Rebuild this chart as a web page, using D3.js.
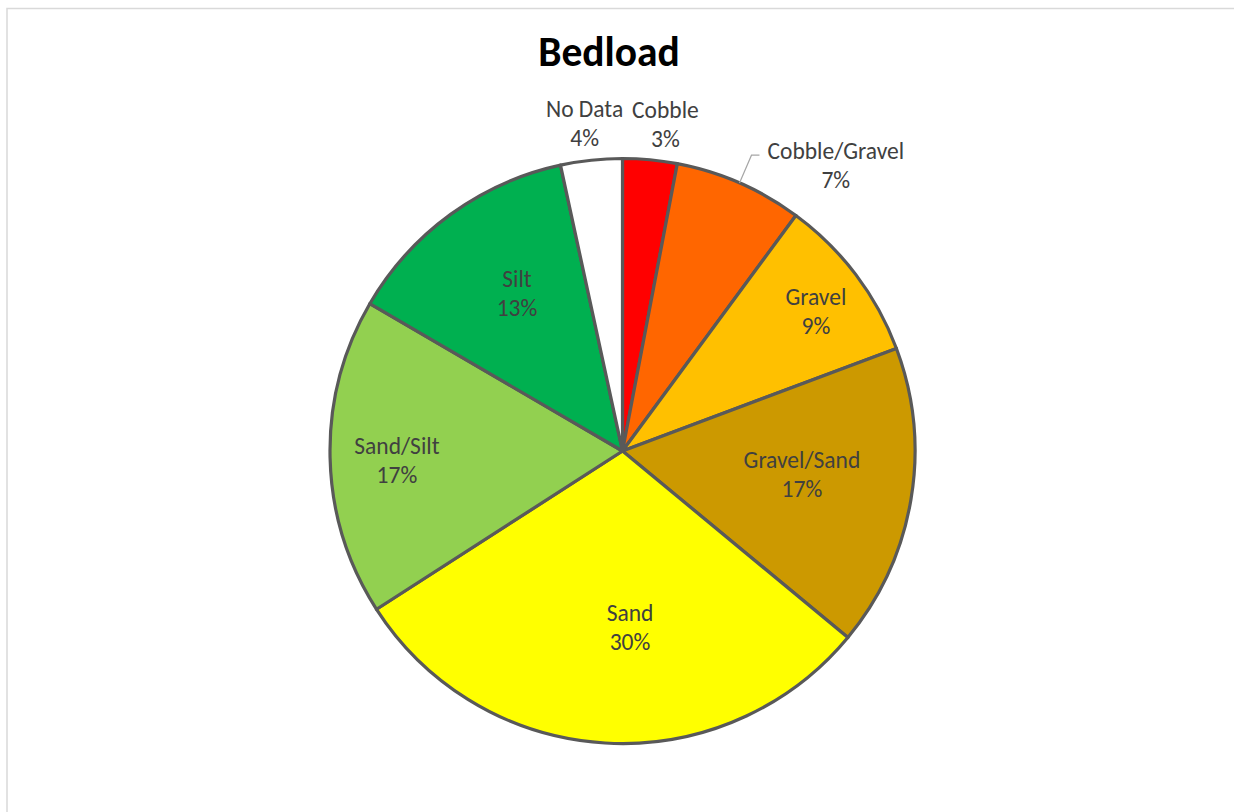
<!DOCTYPE html>
<html><head><meta charset="utf-8">
<script src="https://cdn.jsdelivr.net/npm/d3@7"></script>
<style>body{margin:0;background:#fff}svg{display:block}</style>
</head><body>
<svg id="c" width="1234" height="812"></svg>
<script>
const categories = ["Cobble","Cobble/Gravel","Gravel","Gravel/Sand","Sand","Sand/Silt","Silt","No Data"];
const values = [3.0, 7.1, 9.2, 16.7, 29.9, 17.5, 13.2, 3.4];
const percentLabels = ["3%","7%","9%","17%","30%","17%","13%","4%"];
const colors = ["#FF0000","#FF6600","#FFC000","#CC9900","#FFFF00","#92D050","#00B050","#FFFFFF"];

// label layout (Excel best-fit approximation): radius fraction, angle tweak (deg)
const labelLayout = [
  {r:1.124, a:2.1, outside:true},
  {r:1.218, a:13.2, outside:true, leader:true},
  {r:0.815, a:1.3},
  {r:0.619, a:-1.84},
  {r:0.606, a:-5.85},
  {r:0.772, a:-1.28},
  {r:0.648, a:2.18},
  {r:1.124, a:-0.5, outside:true}
];

const svg = d3.select("#c");
const W = 1234, H = 812;
svg.append("rect").attr("x",7).attr("y",8.5).attr("width",W).attr("height",H)
  .attr("fill","#fff").attr("stroke","#d9d9d9").attr("stroke-width",1.5);

const font = "Carlito, Calibri, Lato, sans-serif";
svg.append("text").attr("x",609).attr("y",66).attr("text-anchor","middle")
  .attr("font-family",font).attr("font-weight","bold").attr("font-size",41.5)
  .attr("fill","#000").text("Bedload");

const cx = 622.5, cy = 451, R = 292.5;
const g = svg.append("g").attr("transform",`translate(${cx},${cy})`);
const pie = d3.pie().sort(null).value(d=>d)(values);
const arc = d3.arc().innerRadius(0).outerRadius(R);
g.selectAll("path").data(pie).join("path")
  .attr("d",arc).attr("fill",(d,i)=>colors[i])
  .attr("stroke","#595959").attr("stroke-width",3.2).attr("stroke-linejoin","round");

const fs = 23.5, lh = 29;
pie.forEach((d,i)=>{
  const L = labelLayout[i];
  const mid = (d.startAngle+d.endAngle)/2 + L.a*Math.PI/180;
  const x = Math.sin(mid)*R*L.r, y = -Math.cos(mid)*R*L.r;
  const t = g.append("text").attr("text-anchor","middle")
    .attr("font-family",font).attr("font-size",fs).attr("fill","#404040");
  t.append("tspan").attr("x",x).attr("y",y-lh/2+7.5).text(categories[i]);
  t.append("tspan").attr("x",x).attr("y",y+lh/2+7.5).text(percentLabels[i]);
  if (L.leader) {
    const m0 = (d.startAngle+d.endAngle)/2;
    const p0 = [Math.sin(m0)*R, -Math.cos(m0)*R];
    const tw = t.node().getBBox();
    const p2 = [tw.x - 8, y - lh/2 + 4];
    const p1 = [p2[0]-8, p2[1]];
    g.append("path").attr("d", d3.line()([p0,p1,p2]))
      .attr("fill","none").attr("stroke","#a6a6a6").attr("stroke-width",1.2);
  }
});
</script>
</body></html>
